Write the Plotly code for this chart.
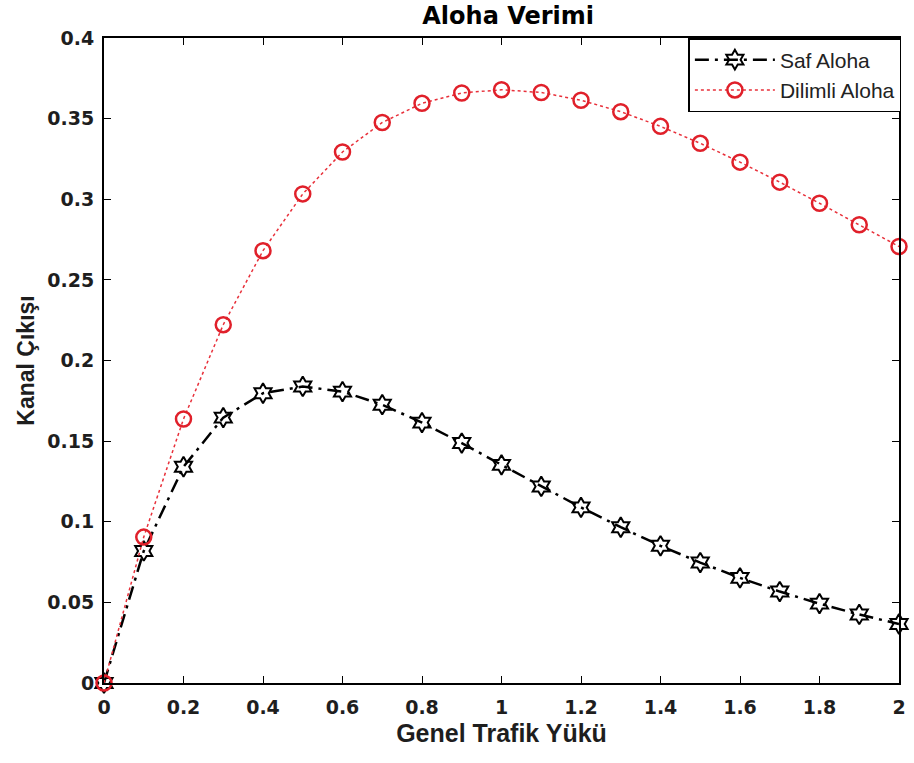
import plotly.graph_objects as go

G = [0, 0.1, 0.2, 0.3, 0.4, 0.5, 0.6, 0.7, 0.8, 0.9, 1.0, 1.1, 1.2, 1.3, 1.4, 1.5, 1.6, 1.7, 1.8, 1.9, 2.0]
saf_aloha = [0, 0.0819, 0.1341, 0.1646, 0.1797, 0.1839, 0.1807, 0.1726, 0.1615, 0.1488, 0.1353,
             0.1219, 0.1089, 0.0966, 0.0851, 0.0747, 0.0652, 0.0567, 0.0492, 0.0425, 0.0366]
dilimli_aloha = [0, 0.0905, 0.1637, 0.2222, 0.2681, 0.3033, 0.3293, 0.3476, 0.3595, 0.3659, 0.3679,
                 0.3662, 0.3614, 0.3543, 0.3452, 0.3347, 0.3230, 0.3106, 0.2975, 0.2842, 0.2707]
x_ticks = [0, 0.2, 0.4, 0.6, 0.8, 1.0, 1.2, 1.4, 1.6, 1.8, 2.0]
x_labels = ["0", "0.2", "0.4", "0.6", "0.8", "1", "1.2", "1.4", "1.6", "1.8", "2"]
y_ticks = [0, 0.05, 0.1, 0.15, 0.2, 0.25, 0.3, 0.35, 0.4]
y_labels = ["0", "0.05", "0.1", "0.15", "0.2", "0.25", "0.3", "0.35", "0.4"]

fig = go.Figure()
fig.add_trace(go.Scatter(
    x=G, y=saf_aloha, name="Saf Aloha", mode="lines+markers",
    line=dict(color="black", width=2.5, dash="14px,6px,3px,6px"),
    marker=dict(symbol="hexagram-open", size=15, color="black", line=dict(width=2, color="black")),
    cliponaxis=False,
))
fig.add_trace(go.Scatter(
    x=G, y=dilimli_aloha, name="Dilimli Aloha", mode="lines+markers",
    line=dict(color="#e8303a", width=1.5, dash="dot"),
    marker=dict(symbol="circle-open", size=15, color="#e0202a", line=dict(width=2.5, color="#e0202a")),
    cliponaxis=False,
))

axis_common = dict(
    showgrid=False, zeroline=False, showline=True, linecolor="black", linewidth=2,
    mirror="ticks", ticks="inside", ticklen=7, tickcolor="black", tickwidth=1,
    tickfont=dict(family="DejaVu Sans", size=19, color="#1e1e1e", weight="bold"),
)

fig.update_layout(
    width=914, height=763,
    margin=dict(l=104, r=8, t=38, b=80),
    paper_bgcolor="white", plot_bgcolor="white",
    title=dict(text="Aloha Verimi", x=0.556, xanchor="center", y=0.979, yanchor="middle",
               font=dict(family="DejaVu Sans", size=24, color="black", weight="bold")),
    xaxis=dict(range=[0, 2], tickvals=x_ticks, ticktext=x_labels, ticklabelstandoff=6,
               title=dict(text="Genel Trafik Yükü", standoff=8,
                          font=dict(family="Liberation Sans", size=25, color="#1e1e1e", weight="bold")),
               **axis_common),
    yaxis=dict(range=[0, 0.4], tickvals=y_ticks, ticktext=y_labels, ticklabelstandoff=4,
               title=dict(text="Kanal Çıkışı", standoff=6,
                          font=dict(family="Liberation Sans", size=23, color="#1e1e1e", weight="bold")),
               **axis_common),
    legend=dict(x=1.003, y=1.0, xanchor="right", yanchor="top", bgcolor="white",
                bordercolor="black", borderwidth=1.5, itemwidth=80,
                font=dict(family="Liberation Sans", size=21, color="#222222"),
                tracegroupgap=0),
    showlegend=True,
)

fig.write_html("out.html")
